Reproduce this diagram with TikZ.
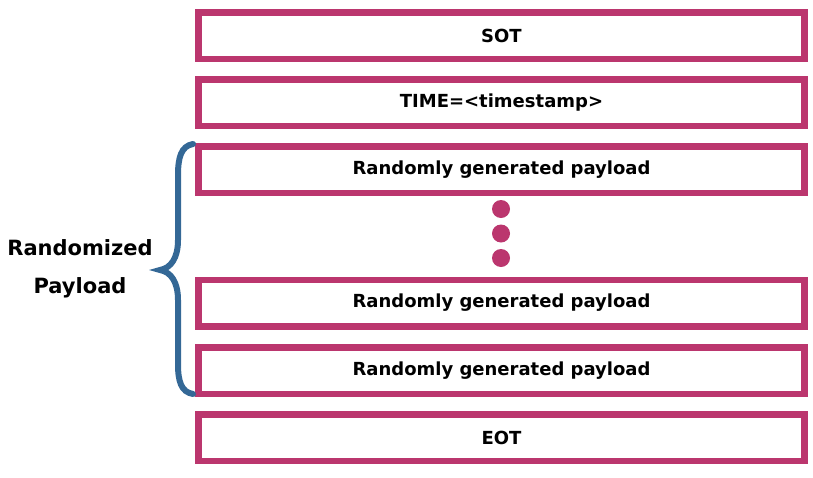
\documentclass[tikz,border=0pt]{standalone}
\usepackage{fontspec}
\setmainfont{DejaVu Sans}
\usepackage{tikz}
\definecolor{framepink}{HTML}{BB366E}
\definecolor{braceblue}{HTML}{346896}

\begin{document}
\begin{tikzpicture}[x=1pt,y=-1pt,
	field/.style={shape=rectangle,draw=framepink,line width=6.5pt,minimum width=606pt,minimum height=46.5pt,inner sep=0pt,font=\bfseries\fontsize{18}{21}\selectfont},
	gap/.style={shape=circle,fill=framepink,minimum size=18pt,inner sep=0pt}]

	\useasboundingbox (0,0) rectangle (813,477);

	\node[field] (sot)  at (501.5, 35.5)  {SOT};
	\node[field] (time) at (501.5, 102.5) {TIME=<timestamp>};
	\node[field] (p1)   at (501.5, 169.5) {Randomly generated payload};
	\node[field] (p2)   at (501.5, 303)   {Randomly generated payload};
	\node[field] (p3)   at (501.5, 370.5) {Randomly generated payload};
	\node[field] (eot)  at (501.5, 437.5) {EOT};

	\node[gap] (d1) at (501, 209) {};
	\node[gap] (d2) at (501, 233.5) {};
	\node[gap] (d3) at (501, 258) {};

	\coordinate (bt) at (193, 144);
	\coordinate (bm) at (160, 270);
	\coordinate (bb) at (193, 394);
	\draw[braceblue,line width=6pt,line cap=round] (bt) .. controls (181,146) and (178,158) .. (178,175) -- (178,240)
		.. controls (178,258) and (171,268) .. (bm) .. controls (171,272) and (178,282) .. (178,300) -- (178,364)
		.. controls (178,381) and (181,392) .. (bb);

	\node[align=center,font=\bfseries\fontsize{21}{38}\selectfont] (rp) at (80, 269) {Randomized\\Payload};

\end{tikzpicture}
\end{document}
